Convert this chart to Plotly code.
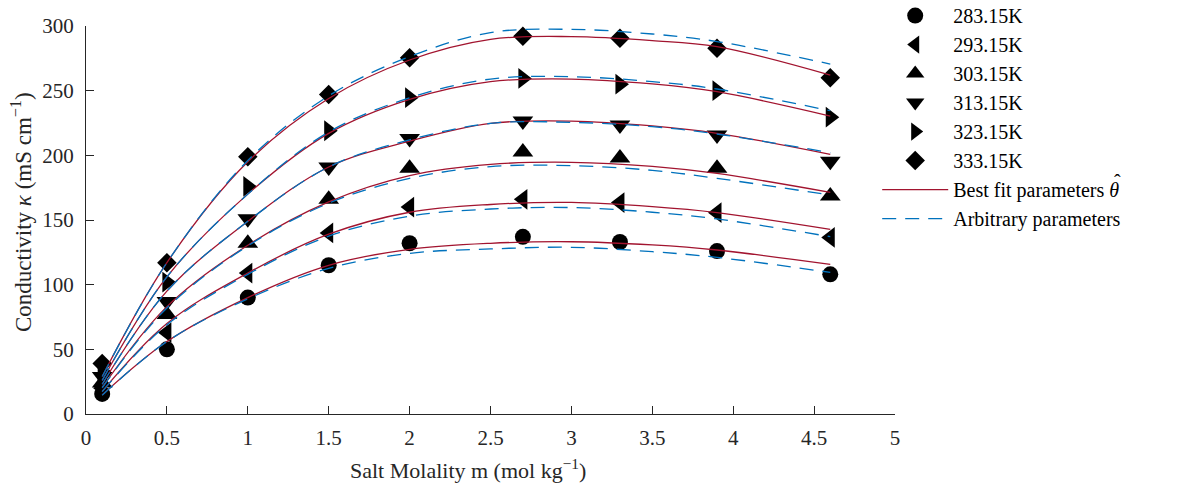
import plotly.graph_objects as go

# ---- data ----
temps = ["283.15K", "293.15K", "303.15K", "313.15K", "323.15K", "333.15K"]
molality = [0.1, 0.5, 1.0, 1.5, 2.0, 2.7, 3.3, 3.9, 4.6]
k_283 = [15.5, 50, 90, 115, 132, 137, 133, 126, 108]
k_293 = [20, 63, 109, 140, 160, 166, 163.5, 155.7, 136.5]
k_303 = [24, 77, 132, 166, 190, 202.5, 198, 190, 168.5]
k_313 = [29, 87, 151, 191, 213, 226.5, 223.5, 215.7, 195.5]
k_323 = [33, 102, 176, 219, 244.6, 259.5, 255, 250, 229.5]
k_333 = [39, 117, 199, 247, 275.5, 292, 290.5, 282.7, 260]

fit_x = [0.1, 0.5, 1.0, 1.5, 2.0, 2.5, 3.0, 3.5, 3.9, 4.6]
best_283 = [14.7, 56, 90, 115, 127.3, 132, 133.2, 130.7, 126.8, 115.7]
best_293 = [17.5, 70, 109, 139, 156, 162, 163.6, 160.3, 155.7, 142.8]
best_303 = [20.5, 83, 130.5, 164, 184.3, 193, 194.6, 191.5, 186, 171.4]
best_313 = [23, 95, 149, 191, 211, 224.7, 226.5, 222.7, 217, 200.8]
best_323 = [26, 106, 170, 217, 243.3, 257, 259, 255.2, 249.2, 230.4]
best_333 = [29, 117, 195, 244, 273.7, 289.7, 291.8, 288.7, 284, 262]

arb_283 = [14.5, 56, 89, 112.6, 124.2, 127.6, 128.9, 125.5, 121.1, 109.5]
arb_293 = [17.3, 69, 108, 137.5, 153, 158.5, 159.6, 156, 150.8, 137.1]
arb_303 = [20.3, 82, 130, 163, 182.2, 191.3, 192, 188.4, 182.2, 169.3]
arb_313 = [23, 95, 149, 191, 212, 224.7, 225.5, 222.2, 216.5, 202]
arb_323 = [26, 106, 170, 218, 244.5, 259, 260.8, 257, 251.3, 234.5]
arb_333 = [29, 117, 196, 246, 276.3, 294.9, 297.4, 293.8, 288, 270.6]

x_ticks = [0, 0.5, 1, 1.5, 2, 2.5, 3, 3.5, 4, 4.5, 5]
x_tick_text = ["0", "0.5", "1", "1.5", "2", "2.5", "3", "3.5", "4", "4.5", "5"]
y_ticks = [0, 50, 100, 150, 200, 250, 300]

measured = [k_283, k_293, k_303, k_313, k_323, k_333]
best = [best_283, best_293, best_303, best_313, best_323, best_333]
arb = [arb_283, arb_293, arb_303, arb_313, arb_323, arb_333]

symbols = ["circle", "triangle-left", "triangle-up", "triangle-down", "triangle-right", "diamond"]
sizes = [16, 18, 18, 18, 18, 15]

FONT = "Liberation Serif"
AX = "#262626"
RED = "#A2142F"
BLUE = "#0072BD"

fig = go.Figure()
for i, (name, ys) in enumerate(zip(temps, measured)):
    fig.add_trace(go.Scatter(
        x=molality, y=ys, mode="markers", name=name,
        marker=dict(symbol=symbols[i], size=sizes[i], color="black",
                    line=dict(width=0)),
        legendgroup=name,
    ))

for i, ys in enumerate(best):
    fig.add_trace(go.Scatter(
        x=fit_x, y=ys, mode="lines", line=dict(color=RED, width=1.3, shape="spline"),
        name="Best fit parameters <i>θ</i>",
        showlegend=(i == 0), legendgroup="best",
    ))
for i, ys in enumerate(arb):
    fig.add_trace(go.Scatter(
        x=fit_x, y=ys, mode="lines",
        line=dict(color=BLUE, width=1.3, dash="14px,9px", shape="spline"),
        name="Arbitrary parameters", showlegend=(i == 0), legendgroup="arb",
    ))

fig.update_layout(
    width=1181, height=483,
    margin=dict(l=86, r=286, t=26, b=69, autoexpand=False),
    plot_bgcolor="white", paper_bgcolor="white",
    font=dict(family=FONT, size=21, color=AX),
    showlegend=True,
    legend=dict(
        x=0.978, xanchor="left", y=1.077, yanchor="top",
        font=dict(family=FONT, size=20, color="black"),
        itemwidth=66, tracegroupgap=0, traceorder="normal",
        bgcolor="rgba(0,0,0,0)", maxheight=470,
    ),
    xaxis=dict(
        range=[0, 5], tickmode="array", tickvals=x_ticks, ticktext=x_tick_text,
        showline=True, linecolor=AX, linewidth=1, mirror=False,
        ticks="inside", ticklen=8, tickcolor=AX, tickwidth=1,
        showgrid=False, zeroline=False, ticklabelstandoff=5,
    ),
    yaxis=dict(
        range=[0, 300], tickmode="array", tickvals=y_ticks,
        showline=True, linecolor=AX, linewidth=1, mirror=False,
        ticks="inside", ticklen=8, tickcolor=AX, tickwidth=1,
        showgrid=False, zeroline=False, ticklabelstandoff=7,
    ),
    annotations=[
        dict(text="Salt Molality m (mol kg<sup>−1</sup>)", xref="paper", yref="paper",
             x=(468 - 86) / 809, y=-(469 - 414) / 388, xanchor="center", yanchor="middle",
             showarrow=False, font=dict(family=FONT, size=22, color=AX)),
        dict(text="Conductivity <i>κ</i> (mS cm<sup>−1</sup>)", xref="paper", yref="paper",
             x=-(86 - 22) / 809, y=(414 - 212) / 388, xanchor="center", yanchor="middle",
             textangle=-90, showarrow=False, font=dict(family=FONT, size=23, color=AX)),
        # circumflex accent over the legend's theta (theta-hat)
        dict(text="ˆ", xref="paper", yref="paper",
             x=(1117 - 86) / 809, y=(414 - 182) / 388, xanchor="center", yanchor="middle",
             showarrow=False, font=dict(family=FONT, size=20, color="black")),
    ],
)

fig.write_html("out.html")
